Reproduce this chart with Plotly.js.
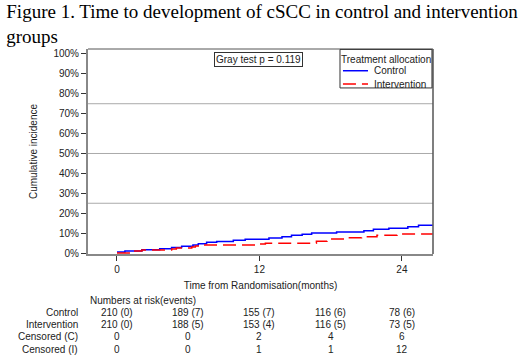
<!DOCTYPE html>
<html>
<head>
<meta charset="utf-8">
<script src="https://cdn.plot.ly/plotly-3.0.1.min.js"></script>
<style>html,body{margin:0;padding:0;background:#fff;}#chart{width:526px;height:363px;}</style>
</head>
<body>
<div id="chart"></div>
<script>
// ---- data ----
const controlTime = [0, 0.67, 2.1, 3.6, 4.6, 5.45, 6.4, 6.85, 7.55, 8.4, 9.8, 10.8, 12.8, 13.9, 14.7, 15.6, 16.4, 18.5, 20.8, 21.6, 22.9, 24.5, 25.4, 26.6];
const controlInc  = [0.5, 1.0, 1.6, 2.1, 2.8, 3.4, 4.0, 4.7, 5.4, 5.8, 6.4, 6.9, 7.5, 8.2, 8.9, 9.4, 10.0, 10.6, 11.2, 11.9, 12.5, 13.2, 14.0, 14.0];
const interTime = [0, 1.4, 2.1, 4.6, 5.0, 6.3, 6.6, 7.3, 11.9, 12.5, 16.8, 17.7, 19.2, 20.6, 21.9, 23.6, 26.6];
const interInc  = [0, 1.0, 1.5, 2.0, 2.5, 3.0, 3.5, 4.0, 4.5, 4.9, 5.9, 7.0, 7.7, 8.2, 8.9, 9.5, 9.5];
const yTicks = [0, 10, 20, 30, 40, 50, 60, 70, 80, 90, 100];
const yTickText = ['0%', '10%', '20%', '30%', '40%', '50%', '60%', '70%', '80%', '90%', '100%'];
const xTicks = [0, 12, 24];
const gridVals = [25, 50, 75];
const riskTimes = [0, 6, 12, 18, 24];
const riskRowLabels = ['Control', 'Intervention', 'Censored (C)', 'Censored (I)'];
const riskRows = [
  ['210 (0)', '189 (7)', '155 (7)', '116 (6)', '78 (6)'],
  ['210 (0)', '188 (5)', '153 (4)', '116 (5)', '73 (5)'],
  ['0', '0', '2', '4', '6'],
  ['0', '0', '1', '1', '12']
];
const seriesNames = ['Control', 'Intervention'];
const grayTest = 'Gray test p = 0.119';

// ---- styling ----
const SANS = 'Liberation Sans, Arial, sans-serif';
const TXT = '#222';
const dashPat = '13px,6px';
const blue = '#0000ff', red = '#ff0000';

const traces = [
  {x: controlTime, y: controlInc, type: 'scatter', mode: 'lines', line: {shape: 'hv', color: blue, width: 1.5}, name: seriesNames[0], showlegend: false},
  {x: interTime, y: interInc, type: 'scatter', mode: 'lines', line: {shape: 'hv', color: red, width: 1.5, dash: dashPat}, name: seriesNames[1], showlegend: false}
];

const shapes = [];
gridVals.forEach(v => shapes.push({type: 'line', xref: 'paper', yref: 'y', x0: 0, x1: 1, y0: v, y1: v, line: {color: '#aaaaaa', width: 1}, layer: 'below'}));
// frame top & right
shapes.push({type: 'line', xref: 'paper', yref: 'paper', x0: 0, x1: 1, y0: 1, y1: 1, line: {color: '#555', width: 1}});
shapes.push({type: 'line', xref: 'paper', yref: 'paper', x0: 1, x1: 1, y0: 0, y1: 1, line: {color: '#555', width: 1.5}});
// legend box
shapes.push({type: 'rect', xref: 'paper', yref: 'paper', x0: 0.7304, x1: 0.997, y0: 0.81, y1: 0.998, line: {color: '#333', width: 1}, fillcolor: '#fff'});
shapes.push({type: 'line', xref: 'paper', yref: 'paper', x0: 0.739, x1: 0.8116, y0: 0.894, y1: 0.894, line: {color: blue, width: 1.5}});
shapes.push({type: 'line', xref: 'paper', yref: 'paper', x0: 0.739, x1: 0.8116, y0: 0.829, y1: 0.829, line: {color: red, width: 1.5, dash: dashPat}});

const annotations = [];
const f10 = {family: SANS, size: 10, color: TXT};
function ann(o) { annotations.push(Object.assign({showarrow: false, font: f10, xanchor: 'center', yanchor: 'middle'}, o)); }
ann({xref: 'paper', yref: 'paper', x: 0.494, y: 0.949, text: grayTest, bordercolor: '#333', borderwidth: 1, borderpad: 1, bgcolor: '#fff'});
ann({xref: 'paper', yref: 'paper', x: 0.864, y: 0.949, text: 'Treatment allocation'});
ann({xref: 'paper', yref: 'paper', x: 0.823, y: 0.894, xanchor: 'left', text: seriesNames[0]});
ann({xref: 'paper', yref: 'paper', x: 0.823, y: 0.829, xanchor: 'left', text: seriesNames[1]});
ann({xref: 'paper', yref: 'paper', x: 0, y: -0.229, xanchor: 'left', text: 'Numbers at risk(events)'});
const rowY = [-0.286, -0.343, -0.401, -0.465];
riskRowLabels.forEach((lab, i) => {
  ann({xref: 'paper', yref: 'paper', x: -0.022, y: rowY[i], xanchor: 'right', text: lab});
  riskRows[i].forEach((val, j) => {
    ann({xref: 'x', yref: 'paper', x: riskTimes[j], y: rowY[i], text: val});
  });
});

const layout = {
  width: 526, height: 363,
  margin: {l: 88, r: 93, t: 49, b: 109},
  paper_bgcolor: '#fff', plot_bgcolor: '#fff',
  title: {
    text: 'Figure 1. Time to development of cSCC in control and intervention<br>groups',
    font: {family: 'Liberation Serif, Times New Roman, serif', size: 19, color: '#000'},
    xref: 'container', yref: 'container', x: 0.012, xanchor: 'left', y: 0.95, yanchor: 'top', pad: {t: 0, l: 0, r: 0, b: 0}
  },
  xaxis: {
    range: [-2.44, 26.62], tickvals: xTicks, ticks: 'outside', ticklen: 5, tickcolor: '#333', tickwidth: 1,
    showline: true, linecolor: '#888', linewidth: 2, showgrid: false, zeroline: false,
    tickfont: {family: SANS, size: 10, color: TXT},
    title: {text: 'Time from Randomisation(months)', font: {family: SANS, size: 10, color: TXT}, standoff: 8}
  },
  yaxis: {
    range: [-0.5, 102.5], tickmode: 'array', tickvals: yTicks, ticktext: yTickText, ticks: 'outside', ticklen: 5, tickcolor: '#333', tickwidth: 1,
    showline: true, linecolor: '#888', linewidth: 2, showgrid: false, zeroline: false,
    tickfont: {family: SANS, size: 10, color: TXT},
    title: {text: 'Cumulative incidence', font: {family: SANS, size: 10, color: TXT}, standoff: 14}
  },
  shapes: shapes,
  annotations: annotations,
  showlegend: false
};

Plotly.newPlot('chart', traces, layout, {displayModeBar: false, staticPlot: true});
</script>
</body>
</html>
